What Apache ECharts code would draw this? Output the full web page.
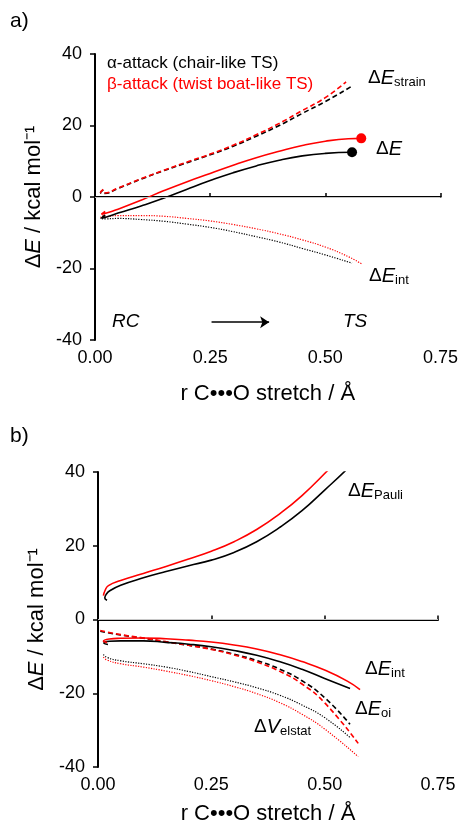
<!DOCTYPE html>
<html>
<head>
<meta charset="utf-8">
<script src="https://cdn.jsdelivr.net/npm/echarts@6/dist/echarts.min.js"></script>
<style>
  html, body { margin: 0; padding: 0; background: #fff; }
  #chart { width: 461px; height: 826px; }
</style>
</head>
<body>
<div id="chart"></div>
<script>
// axis ticks
const xTicks = [0, 0.25, 0.5, 0.75];
const yTicks = [-40, -20, 0, 20, 40];

// panel a) -- [r C...O stretch, kcal/mol]
const aDeltaE_alpha = [[0.022,-5.0],[0.014,-5.9],[0.025,-5.6],[0.05,-4.5],[0.1,-2.5],[0.15,-0.3],[0.2,2.2],[0.25,4.6],[0.3,6.8],[0.35,8.7],[0.4,10.3],[0.45,11.5],[0.5,12.2],[0.558,12.5]];
const aDeltaE_beta = [[0.022,-4.0],[0.014,-4.8],[0.025,-4.5],[0.05,-3.4],[0.1,-0.9],[0.15,1.8],[0.2,4.3],[0.25,6.6],[0.3,8.9],[0.35,11.0],[0.4,12.8],[0.45,14.4],[0.5,15.6],[0.55,16.3],[0.578,16.4]];
const aStrain_alpha = [[0.018,2.0],[0.012,1.2],[0.02,1.0],[0.05,2.4],[0.1,5.0],[0.15,7.4],[0.2,9.6],[0.25,11.8],[0.3,14.2],[0.35,17.0],[0.4,20.0],[0.45,23.4],[0.5,26.7],[0.559,31.1]];
const aStrain_beta = [[0.018,2.1],[0.012,1.3],[0.02,1.1],[0.05,2.5],[0.1,5.1],[0.15,7.5],[0.2,9.8],[0.25,12.0],[0.3,14.5],[0.35,17.4],[0.4,20.6],[0.45,24.2],[0.5,27.8],[0.545,32.2]];
const aInt_alpha = [[0.018,-5.3],[0.012,-6.0],[0.025,-6.1],[0.05,-6.0],[0.1,-6.3],[0.15,-6.8],[0.2,-7.6],[0.25,-8.5],[0.3,-9.7],[0.35,-11.1],[0.4,-12.6],[0.45,-14.4],[0.5,-16.2],[0.558,-18.5]];
const aInt_beta = [[0.018,-5.0],[0.012,-5.7],[0.025,-5.5],[0.05,-5.2],[0.1,-5.2],[0.15,-5.4],[0.2,-6.0],[0.25,-6.7],[0.3,-7.7],[0.35,-8.9],[0.4,-10.3],[0.45,-12.0],[0.5,-14.0],[0.55,-16.7],[0.58,-18.8]];
const rcArrow = [[0.253,-35],[0.378,-35]];

// panel b)
const bPauli_alpha = [[0.02,5.2],[0.015,5.8],[0.018,6.8],[0.026,7.8],[0.05,9.3],[0.1,11.3],[0.15,13.0],[0.2,14.6],[0.25,16.1],[0.3,18.2],[0.35,21.1],[0.4,24.9],[0.45,29.5],[0.5,35.1],[0.547,40.5],[0.57,43.5]];
const bPauli_beta = [[0.012,6.5],[0.016,8.0],[0.023,9.2],[0.05,10.6],[0.1,12.5],[0.15,14.4],[0.2,16.4],[0.25,18.5],[0.3,21.1],[0.35,24.4],[0.4,28.6],[0.45,33.6],[0.505,40.2],[0.53,43.5]];
const bInt_alpha = [[0.022,-6.8],[0.013,-6.4],[0.025,-5.9],[0.05,-5.8],[0.1,-5.8],[0.15,-6.2],[0.2,-6.7],[0.25,-7.4],[0.3,-8.4],[0.35,-9.7],[0.4,-11.4],[0.45,-13.5],[0.5,-16.0],[0.556,-18.7]];
const bInt_beta = [[0.02,-6.2],[0.012,-5.9],[0.025,-5.3],[0.05,-5.1],[0.1,-5.0],[0.15,-5.2],[0.2,-5.6],[0.25,-6.1],[0.3,-6.9],[0.35,-8.0],[0.4,-9.5],[0.45,-11.4],[0.5,-13.7],[0.55,-16.7],[0.578,-19.0]];
const bOi_alpha = [[0.005,-3.2],[0.05,-4.2],[0.1,-5.1],[0.15,-6.1],[0.2,-7.0],[0.25,-8.0],[0.3,-9.4],[0.35,-11.1],[0.4,-13.4],[0.45,-16.6],[0.5,-21.2],[0.556,-28.4]];
const bOi_beta = [[0.005,-3.0],[0.05,-4.1],[0.1,-5.0],[0.15,-6.0],[0.2,-7.0],[0.25,-8.1],[0.3,-9.6],[0.35,-11.5],[0.4,-14.0],[0.45,-17.5],[0.5,-22.6],[0.574,-33.6]];
const bElstat_alpha = [[0.012,-9.5],[0.02,-10.3],[0.05,-11.2],[0.1,-12.0],[0.15,-12.9],[0.2,-14.1],[0.25,-15.5],[0.3,-16.9],[0.35,-18.5],[0.4,-20.5],[0.45,-23.2],[0.5,-26.6],[0.556,-32.0]];
const bElstat_beta = [[0.012,-10.2],[0.02,-11.0],[0.05,-12.0],[0.1,-12.9],[0.15,-14.0],[0.2,-15.2],[0.25,-16.6],[0.3,-18.2],[0.35,-20.1],[0.4,-22.5],[0.45,-25.7],[0.5,-29.7],[0.574,-37.2]];

const FONT = "'Liberation Sans', Arial, Helvetica, sans-serif";
const BLACK = '#000000';
const RED = '#ff0000';

const chart = echarts.init(document.getElementById('chart'), null, { renderer: 'canvas' });

const xAxisBase = (gridIndex, gap) => ({
  type: 'value',
  gridIndex,
  min: xTicks[0],
  max: xTicks[xTicks.length - 1],
  interval: 0.25,
  name: 'r C\u2022\u2022\u2022O stretch / \u00c5',
  nameLocation: 'middle',
  nameGap: gap,
  nameTextStyle: { fontFamily: FONT, fontSize: 22, color: BLACK },
  axisLine: { lineStyle: { color: BLACK, width: 2 } },
  axisTick: { inside: true, length: 4, lineStyle: { color: BLACK, width: 1.5 } },
  axisLabel: { fontFamily: FONT, fontSize: 18, color: BLACK, margin: 9, formatter: v => v.toFixed(2) },
  splitLine: { show: false }
});

const yAxisBase = (gridIndex, gap) => ({
  type: 'value',
  gridIndex,
  min: yTicks[0],
  max: yTicks[yTicks.length - 1],
  interval: 20,
  name: '{n|\u0394}{i|E}{n| / kcal mol\u207b\u00b9}',
  nameLocation: 'middle',
  nameGap: gap,
  nameTextStyle: {
    fontFamily: FONT, fontSize: 22, color: BLACK,
    rich: {
      n: { fontFamily: FONT, fontSize: 22, color: BLACK },
      i: { fontFamily: FONT, fontSize: 22, color: BLACK, fontStyle: 'italic' }
    }
  },
  axisLine: { show: true, lineStyle: { color: BLACK, width: 2 } },
  axisTick: { show: true, inside: false, length: 5, lineStyle: { color: BLACK, width: 1.5 } },
  axisLabel: { fontFamily: FONT, fontSize: 18, color: BLACK, margin: 13 },
  splitLine: { show: false }
});

const curve = (data, color, kind, gi) => ({
  type: 'line',
  xAxisIndex: gi,
  yAxisIndex: gi,
  data,
  smooth: 0.5,
  showSymbol: false,
  symbol: 'none',
  z: 3,
  lineStyle: {
    color,
    width: kind === 'dotted' ? 1.2 : 1.6,
    type: kind === 'dashed' ? [5, 3] : (kind === 'dotted' ? [1.2, 1.4] : 'solid')
  }
});

const zeroLine = gi => ({
  type: 'line',
  xAxisIndex: gi,
  yAxisIndex: gi,
  data: [],
  z: 1,
  markLine: {
    silent: true,
    symbol: 'none',
    label: { show: false },
    lineStyle: { color: '#c8c8c8', width: 1, type: 'solid' },
    data: [{ yAxis: 0 }]
  }
});

const rich = {
  d: { fontFamily: FONT, fontSize: 19, fill: BLACK, color: BLACK },
  e: { fontFamily: FONT, fontSize: 20, fontStyle: 'italic', fill: BLACK, color: BLACK },
  s: { fontFamily: FONT, fontSize: 13, fill: BLACK, color: BLACK, padding: [9, 0, 0, 0] }
};

const label = (x, y, text) => ({
  type: 'text',
  left: x,
  top: y,
  style: { text, rich, font: '19px ' + FONT, fill: BLACK }
});

const plain = (x, y, text, color, size, italic) => ({
  type: 'text',
  left: x,
  top: y,
  style: { text, font: (italic ? 'italic ' : '') + size + 'px ' + FONT, fill: color }
});

const option = {
  animation: false,
  backgroundColor: '#ffffff',
  grid: [
    { left: 95, top: 54, width: 347, height: 286 },
    { left: 98, top: 472, width: 340, height: 296 }
  ],
  xAxis: [xAxisBase(0, 43), xAxisBase(1, 36)],
  yAxis: [yAxisBase(0, 43), yAxisBase(1, 41)],
  series: [
    zeroLine(0),
    zeroLine(1),
    curve(aStrain_alpha, BLACK, 'dashed', 0),
    curve(aStrain_beta, RED, 'dashed', 0),
    curve(aInt_alpha, BLACK, 'dotted', 0),
    curve(aInt_beta, RED, 'dotted', 0),
    curve(aDeltaE_alpha, BLACK, 'solid', 0),
    curve(aDeltaE_beta, RED, 'solid', 0),
    {
      type: 'scatter',
      xAxisIndex: 0,
      yAxisIndex: 0,
      symbolSize: 10,
      z: 4,
      data: [
        { value: aDeltaE_alpha[aDeltaE_alpha.length - 1], itemStyle: { color: BLACK, opacity: 1 } },
        { value: aDeltaE_beta[aDeltaE_beta.length - 1], itemStyle: { color: RED, opacity: 1 } }
      ]
    },
    {
      type: 'line',
      xAxisIndex: 0,
      yAxisIndex: 0,
      data: [],
      markLine: {
        silent: true,
        symbol: ['none', 'arrow'],
        symbolSize: 9,
        label: { show: false },
        lineStyle: { color: BLACK, width: 1.6, type: 'solid' },
        data: [[{ coord: rcArrow[0] }, { coord: rcArrow[1] }]]
      }
    },
    curve(bPauli_alpha, BLACK, 'solid', 1),
    curve(bPauli_beta, RED, 'solid', 1),
    curve(bElstat_alpha, BLACK, 'dotted', 1),
    curve(bElstat_beta, RED, 'dotted', 1),
    curve(bOi_alpha, BLACK, 'dashed', 1),
    curve(bOi_beta, RED, 'dashed', 1),
    curve(bInt_alpha, BLACK, 'solid', 1),
    curve(bInt_beta, RED, 'solid', 1)
  ],
  graphic: [
    plain(10, 11, 'a)', BLACK, 21, false),
    plain(10, 426, 'b)', BLACK, 21, false),
    plain(107, 55, '\u03b1-attack (chair-like TS)', BLACK, 17, false),
    plain(107, 76, '\u03b2-attack (twist boat-like TS)', RED, 17, false),
    label(368, 68, '{d|\u0394}{e|E}{s|strain}'),
    label(376, 139, '{d|\u0394}{e|E}'),
    label(369, 266, '{d|\u0394}{e|E}{s|int}'),
    plain(112, 312, 'RC', BLACK, 19, true),
    plain(343, 312, 'TS', BLACK, 19, true),
    label(348, 481, '{d|\u0394}{e|E}{s|Pauli}'),
    label(365, 659, '{d|\u0394}{e|E}{s|int}'),
    label(355, 699, '{d|\u0394}{e|E}{s|oi}'),
    label(254, 717, '{d|\u0394}{e|V}{s|elstat}')
  ]
};

chart.setOption(option);
</script>
</body>
</html>
